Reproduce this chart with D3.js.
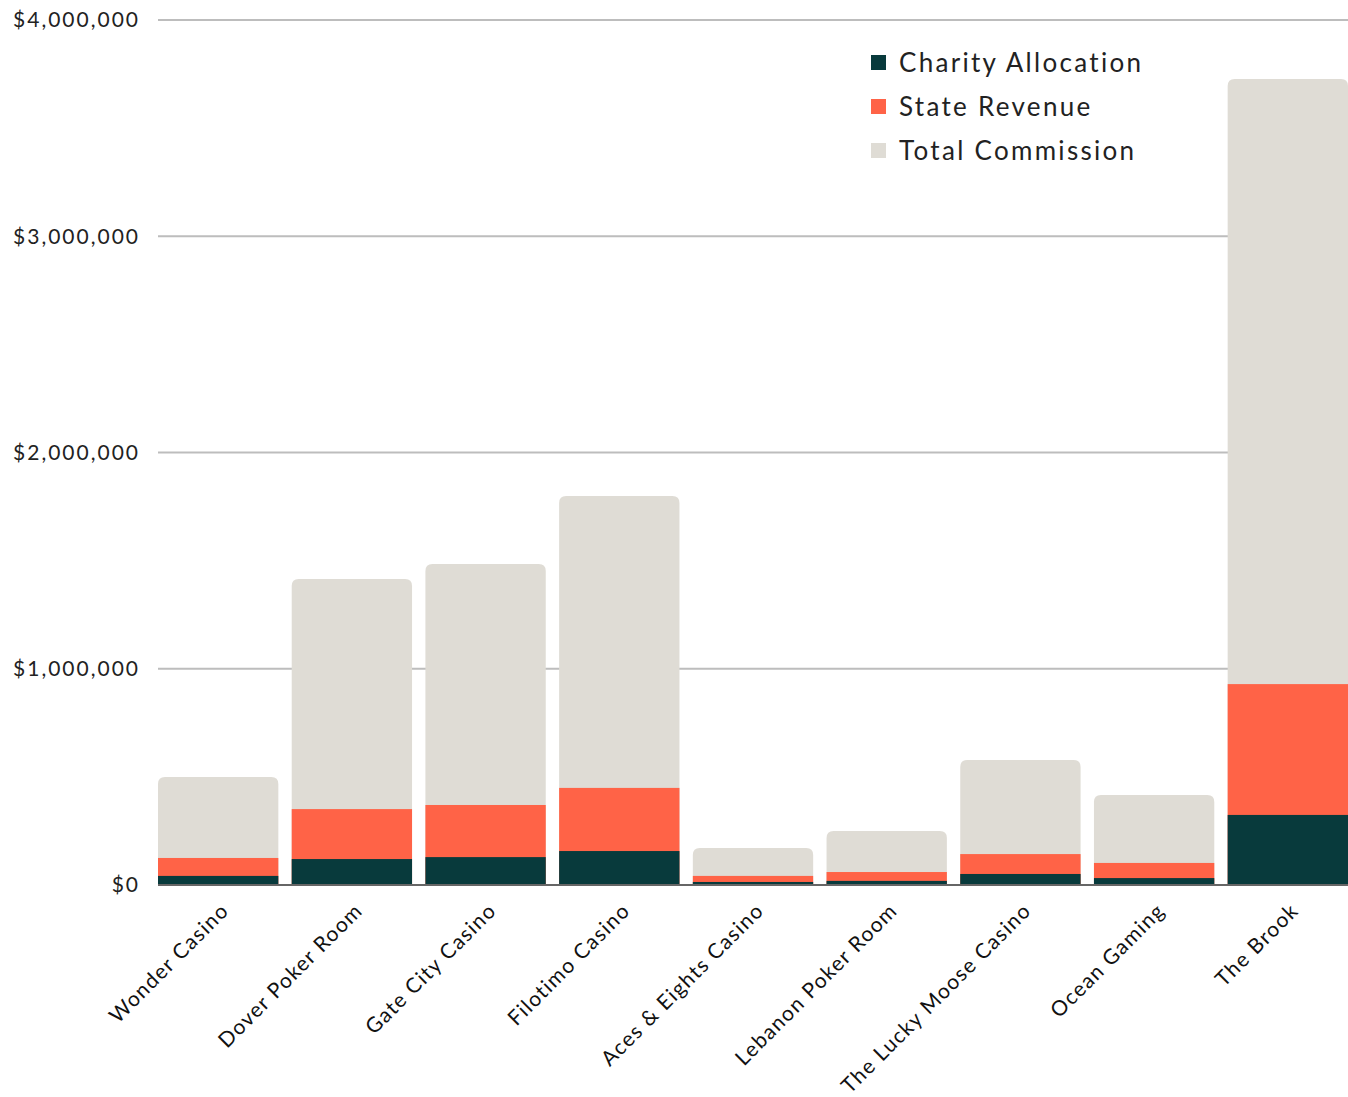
<!DOCTYPE html>
<html><head><meta charset="utf-8">
<script src="https://cdn.jsdelivr.net/npm/d3@7"></script>
<style>body{margin:0;background:#fff;} svg{display:block;}</style>
</head><body>
<svg id="chart" width="1348" height="1097"></svg>
<script>
const categories = ["Wonder Casino","Dover Poker Room","Gate City Casino","Filotimo Casino","Aces & Eights Casino","Lebanon Poker Room","The Lucky Moose Casino","Ocean Gaming","The Brook"];
const totalCommission = [500000,1415000,1484000,1799000,171000,250000,578000,416000,3727000];
const stateRevenue = [125000,351000,370000,449000,42000,60000,143000,102000,929000];
const charityAllocation = [42000,120000,129000,157000,14000,19000,51000,32000,324000];
const yTicks = [0,1000000,2000000,3000000,4000000];
const seriesNames = ["Charity Allocation","State Revenue","Total Commission"];
const colors = {"Charity Allocation":"#083a3c","State Revenue":"#ff6347","Total Commission":"#dfdcd5"};

const svg = d3.select("#chart");
const m = {left:158, right:1348, top:20, bottom:885};
const x = d3.scaleBand().domain(categories).range([m.left, m.right]).paddingInner(0.1).paddingOuter(0);
const y = d3.scaleLinear().domain([0,4000000]).range([m.bottom, m.top]);
const font = "Lato, 'Open Sans', sans-serif";

// gridlines
svg.append("g").selectAll("line").data(yTicks.filter(d=>d>0)).join("line")
  .attr("x1", m.left).attr("x2", m.right)
  .attr("y1", d=>y(d)).attr("y2", d=>y(d))
  .attr("stroke","#bdbdbd").attr("stroke-width",2);

// y labels
svg.append("g").selectAll("text").data(yTicks).join("text")
  .attr("x", 140).attr("y", d=>y(d)).attr("dy","0.35em")
  .attr("text-anchor","end").attr("font-family",font).attr("font-size",21)
  .attr("letter-spacing",2).attr("fill","#222").text(d=>"$"+d3.format(",")(d));

function topRounded(x0,y0,w,h,r){
  r = Math.min(r,h,w/2);
  return `M${x0},${y0+h}V${y0+r}Q${x0},${y0} ${x0+r},${y0}H${x0+w-r}Q${x0+w},${y0} ${x0+w},${y0+r}V${y0+h}Z`;
}
const bw = x.bandwidth();
// total commission
svg.append("g").selectAll("path").data(categories).join("path")
  .attr("d",(c,i)=>topRounded(x(c), y(totalCommission[i]), bw, y(0)-y(totalCommission[i]), 7))
  .attr("fill",colors["Total Commission"]);
// state revenue
svg.append("g").selectAll("rect").data(categories).join("rect")
  .attr("x",c=>x(c)).attr("width",bw)
  .attr("y",(c,i)=>y(stateRevenue[i])).attr("height",(c,i)=>y(0)-y(stateRevenue[i]))
  .attr("fill",colors["State Revenue"]);
// charity
svg.append("g").selectAll("rect").data(categories).join("rect")
  .attr("x",c=>x(c)).attr("width",bw)
  .attr("y",(c,i)=>y(charityAllocation[i])).attr("height",(c,i)=>y(0)-y(charityAllocation[i]))
  .attr("fill",colors["Charity Allocation"]);

// baseline
svg.append("line").attr("x1",m.left).attr("x2",m.right).attr("y1",y(0)).attr("y2",y(0))
  .attr("stroke","#666").attr("stroke-width",2);

// x labels
svg.append("g").selectAll("text").data(categories).join("text")
  .attr("transform",c=>`translate(${x(c)+bw/2+12},${y(0)+27}) rotate(-45)`)
  .attr("text-anchor","end").attr("font-family",font).attr("font-size",21)
  .attr("letter-spacing",1.3).attr("fill","#111").text(c=>c);

// legend
const lg = svg.append("g").attr("transform","translate(871,63)");
seriesNames.forEach((s,i)=>{
  const g = lg.append("g").attr("transform",`translate(0,${i*44})`);
  g.append("rect").attr("x",0).attr("y",-8).attr("width",15).attr("height",15).attr("fill",colors[s]);
  g.append("text").attr("x",28).attr("y",0).attr("dy","0.35em")
    .attr("font-family",font).attr("font-size",26).attr("letter-spacing",2.3)
    .attr("fill","#222").text(s);
});
</script>
</body></html>
